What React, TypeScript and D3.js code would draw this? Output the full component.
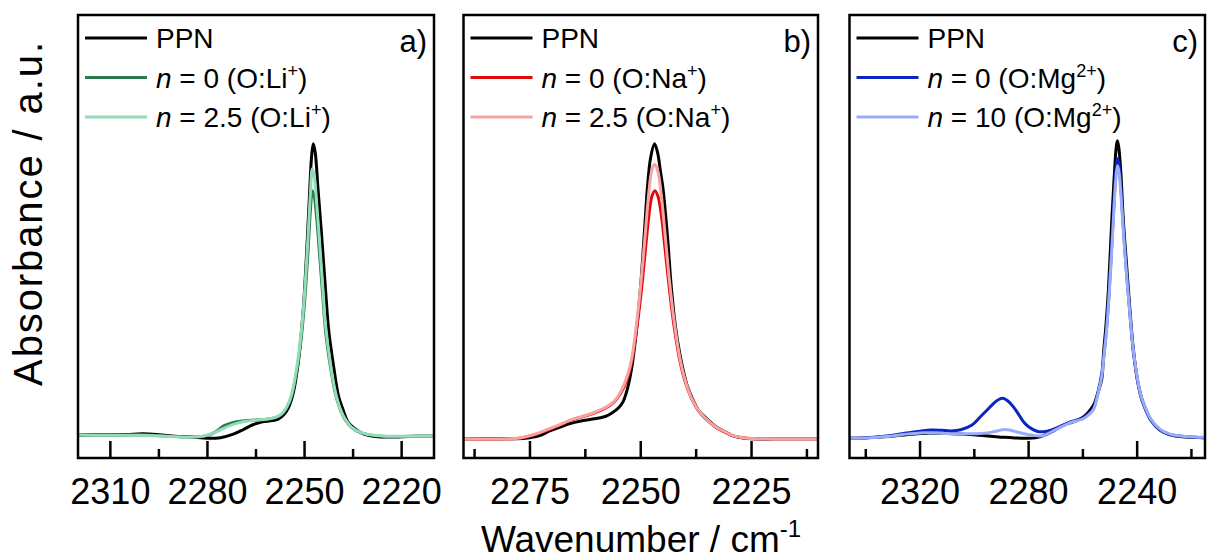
import React from "react";
import * as d3 from "d3";

type Pt = [number, number];

// ---- Spectra: [wavenumber (cm^-1), absorbance (a.u.)] ----
const ppnLi: Pt[] = [
  [2320, 0.007], [2312, 0.008], [2305, 0.009], [2300, 0.011], [2295, 0.008], [2290, 0.003],
  [2285, 0.0], [2280, -0.004], [2276, -0.002], [2272, 0.01], [2269, 0.025], [2266, 0.042],
  [2263, 0.052], [2260, 0.056], [2258, 0.062], [2256.5, 0.075], [2255, 0.1], [2253.5, 0.15],
  [2252, 0.25], [2250.5, 0.42], [2249.5, 0.6], [2248.5, 0.82], [2247.8, 0.96], [2247.3, 1.0],
  [2246.7, 0.97], [2245.8, 0.84], [2244.8, 0.7], [2243.5, 0.5], [2242.5, 0.36], [2241, 0.24],
  [2239.5, 0.14], [2238, 0.09], [2236.5, 0.05], [2234, 0.025], [2232, 0.012], [2228, 0.002],
  [2224, 0.0], [2220, 0.001], [2215, 0.003], [2210, 0.003],
];
const li0: Pt[] = [
  [2320, 0.006], [2310, 0.006], [2300, 0.007], [2290, 0.002], [2284, 0.0], [2281, 0.003],
  [2278, 0.014], [2275, 0.038], [2272, 0.05], [2269, 0.055], [2265, 0.058], [2262, 0.06],
  [2259, 0.066], [2257, 0.078], [2255.5, 0.1], [2254, 0.14], [2252.5, 0.22], [2251, 0.34],
  [2250, 0.46], [2249, 0.62], [2248.2, 0.77], [2247.6, 0.84], [2247, 0.82], [2246.2, 0.74],
  [2245.2, 0.6], [2244.3, 0.47], [2243.5, 0.36], [2242, 0.24], [2240.5, 0.15], [2239, 0.095],
  [2237.5, 0.06], [2235.5, 0.033], [2232.5, 0.014], [2228, 0.004], [2224, 0.002], [2220, 0.002],
  [2215, 0.003], [2210, 0.003],
];
const li25: Pt[] = [
  [2320, 0.007], [2310, 0.006], [2300, 0.006], [2290, 0.001], [2284, 0.0], [2281, 0.004],
  [2278, 0.014], [2275, 0.03], [2272, 0.043], [2269, 0.052], [2265, 0.058], [2262, 0.061],
  [2259, 0.067], [2257, 0.08], [2255.5, 0.102], [2254, 0.145], [2252.5, 0.23], [2251, 0.36],
  [2250, 0.49], [2249, 0.67], [2248.2, 0.83], [2247.6, 0.915], [2247, 0.89], [2246.2, 0.79],
  [2245.2, 0.64], [2244.3, 0.5], [2243.5, 0.38], [2242, 0.25], [2240.5, 0.155], [2239, 0.097],
  [2237.5, 0.062], [2235.5, 0.034], [2232.5, 0.015], [2228, 0.005], [2224, 0.003], [2220, 0.003],
  [2215, 0.003], [2210, 0.003],
];

const ppnNa: Pt[] = [
  [2290, -0.006], [2285, -0.006], [2280, -0.006], [2276, -0.004], [2273, 0.004], [2270.4, 0.022],
  [2268, 0.035], [2266, 0.046], [2263.5, 0.055], [2261.5, 0.06], [2259.5, 0.065], [2258, 0.07],
  [2256.5, 0.082], [2255, 0.1], [2254, 0.12], [2253, 0.165], [2252, 0.24], [2251, 0.36],
  [2250, 0.52], [2249, 0.74], [2248.5, 0.85], [2247.8, 0.95], [2246.9, 1.0], [2246.2, 0.97],
  [2245.5, 0.9], [2245, 0.85], [2244, 0.69], [2243.1, 0.51], [2242.2, 0.38], [2241.2, 0.285],
  [2240.3, 0.22], [2239.4, 0.17], [2238, 0.12], [2237, 0.092], [2235.5, 0.068], [2233, 0.035],
  [2231, 0.018], [2229.3, 0.005], [2227, -0.003], [2225, -0.006], [2220, -0.006], [2215, -0.006],
  [2210, -0.006],
];
const na0: Pt[] = [
  [2290, -0.006], [2280, -0.006], [2277, -0.003], [2274, 0.008], [2271, 0.024], [2268, 0.042],
  [2266, 0.056], [2263.5, 0.068], [2261.5, 0.077], [2259.5, 0.088], [2257.5, 0.103], [2256, 0.12],
  [2254.5, 0.15], [2253, 0.2], [2252, 0.26], [2251, 0.36], [2250, 0.48], [2249, 0.63],
  [2248.2, 0.75], [2247.5, 0.82], [2246.8, 0.84], [2246.1, 0.82], [2245.3, 0.75], [2244.5, 0.64],
  [2243.5, 0.5], [2242.5, 0.38], [2241.3, 0.27], [2240, 0.19], [2238.5, 0.13], [2237, 0.09],
  [2235.5, 0.064], [2233, 0.033], [2231, 0.017], [2229.3, 0.005], [2227, -0.002], [2225, -0.005],
  [2220, -0.006], [2210, -0.006],
];
const na25: Pt[] = [
  [2290, -0.006], [2280, -0.006], [2277, -0.002], [2274, 0.009], [2271, 0.026], [2268, 0.044],
  [2266, 0.057], [2263.5, 0.069], [2261.5, 0.078], [2259.5, 0.09], [2257.5, 0.105], [2256, 0.122],
  [2254.5, 0.155], [2253, 0.21], [2252, 0.27], [2251, 0.38], [2250, 0.52], [2249, 0.69],
  [2248.2, 0.83], [2247.5, 0.91], [2246.9, 0.93], [2246.2, 0.91], [2245.4, 0.83], [2244.5, 0.69],
  [2243.5, 0.53], [2242.5, 0.4], [2241.3, 0.28], [2240, 0.195], [2238.5, 0.132], [2237, 0.092],
  [2235.5, 0.066], [2233, 0.034], [2231, 0.018], [2229.3, 0.006], [2227, -0.002], [2225, -0.005],
  [2220, -0.006], [2210, -0.006],
];

const ppnMg: Pt[] = [
  [2346, -0.004], [2340, -0.003], [2335, 0.0], [2330, 0.003], [2325, 0.008], [2320, 0.012],
  [2316, 0.013], [2310, 0.012], [2304, 0.01], [2298, 0.006], [2293, 0.002], [2289, -0.001],
  [2285, -0.003], [2281, -0.004], [2277, -0.002], [2274.5, 0.005], [2271, 0.02], [2268.5, 0.035],
  [2266, 0.045], [2264, 0.05], [2261, 0.062], [2259, 0.075], [2257.5, 0.09], [2256, 0.11],
  [2254.5, 0.15], [2253, 0.2], [2252.4, 0.285], [2251.5, 0.38], [2250.6, 0.5], [2249.35, 0.74],
  [2248.5, 0.88], [2247.8, 0.98], [2247.3, 1.01], [2246.8, 0.99], [2246, 0.9], [2245.1, 0.74],
  [2244, 0.6], [2243.2, 0.5], [2242.3, 0.39], [2241.4, 0.3], [2240, 0.2], [2238.7, 0.145],
  [2237.7, 0.115], [2235, 0.06], [2231.6, 0.024], [2229, 0.012], [2226.7, 0.005], [2222, 0.0],
  [2215, -0.002],
];
const mg0: Pt[] = [
  [2346, -0.004], [2340, -0.002], [2335, 0.001], [2330, 0.006], [2325, 0.014], [2320, 0.02],
  [2316, 0.024], [2312, 0.023], [2308.8, 0.021], [2305, 0.025], [2301, 0.04], [2297.8, 0.069],
  [2295, 0.095], [2292.9, 0.115], [2291, 0.128], [2289.4, 0.132], [2287.5, 0.122], [2285.6, 0.103],
  [2283.5, 0.075], [2281.9, 0.052], [2280, 0.035], [2277, 0.02], [2274.5, 0.018], [2271.5, 0.024],
  [2268.4, 0.036], [2266, 0.046], [2264.7, 0.052], [2262, 0.058], [2259.8, 0.066], [2258, 0.078],
  [2256.1, 0.098], [2254.5, 0.15], [2253, 0.22], [2252.2, 0.285], [2251.2, 0.38], [2250.3, 0.5],
  [2249.1, 0.7], [2248.3, 0.84], [2247.6, 0.93], [2247.2, 0.95], [2246.7, 0.93], [2246, 0.85],
  [2245, 0.7], [2244, 0.57], [2243.2, 0.48], [2242.3, 0.38], [2241.4, 0.29], [2240, 0.2],
  [2238.7, 0.14], [2237.7, 0.112], [2235, 0.058], [2231.6, 0.024], [2229, 0.012], [2226.7, 0.006],
  [2222, 0.001], [2215, -0.002],
];
const mg10: Pt[] = [
  [2346, -0.004], [2340, -0.003], [2335, 0.0], [2330, 0.004], [2325, 0.01], [2320, 0.014],
  [2316, 0.014], [2310, 0.012], [2304, 0.011], [2298, 0.012], [2294, 0.016], [2291, 0.022],
  [2289.2, 0.026], [2287, 0.024], [2284.5, 0.018], [2281.9, 0.012], [2278, 0.005], [2274.5, 0.005],
  [2271.5, 0.018], [2268.4, 0.033], [2266, 0.043], [2264.7, 0.049], [2262, 0.056], [2259.8, 0.063],
  [2258, 0.075], [2256.1, 0.094], [2254.5, 0.145], [2253, 0.21], [2252.2, 0.28], [2251.2, 0.37],
  [2250.3, 0.49], [2249.1, 0.68], [2248.3, 0.82], [2247.6, 0.905], [2247.2, 0.925], [2246.7, 0.905],
  [2246, 0.83], [2245, 0.69], [2244, 0.565], [2243.2, 0.475], [2242.3, 0.38], [2241.4, 0.295],
  [2240, 0.205], [2238.7, 0.145], [2237.7, 0.117], [2235, 0.062], [2231.6, 0.027], [2229, 0.014],
  [2226.7, 0.007], [2222, 0.002], [2215, -0.001],
];

// ---- Axes ----
const domainLi: [number, number] = [2320, 2210];
const domainNa: [number, number] = [2290, 2210];
const domainMg: [number, number] = [2346, 2215];
const majorLi = [2310, 2280, 2250, 2220];
const minorLi = [2295, 2265, 2235];
const majorNa = [2275, 2250, 2225];
const minorNa = [2287.5, 2262.5, 2237.5, 2212.5];
const majorMg = [2320, 2280, 2240];
const minorMg = [2340, 2300, 2260, 2220];
const yDomain: [number, number] = [-0.0714, 1.439];

// ---- Series labels ----
const nLi = ["0", "2.5"];
const nNa = ["0", "2.5"];
const nMg = ["0", "10"];

const FONT = "'Liberation Sans', Arial, Helvetica, sans-serif";
const W = 1207;
const H = 560;
const TOP = 15;
const BOTTOM = 458;

type PanelDef = {
  id: string;
  letter: string;
  x0: number;
  x1: number;
  domain: [number, number];
  major: number[];
  minor: number[];
  ion: string;
  charge: string;
  nValues: string[];
  series: { data: Pt[]; color: string }[];
};

const panels: PanelDef[] = [
  {
    id: "li", letter: "a)", x0: 78, x1: 434, domain: domainLi, major: majorLi, minor: minorLi,
    ion: "Li", charge: "+", nValues: nLi,
    series: [
      { data: ppnLi, color: "#000000" },
      { data: li0, color: "#2a7a4e" },
      { data: li25, color: "#92dcb8" },
    ],
  },
  {
    id: "na", letter: "b)", x0: 463.5, x1: 818, domain: domainNa, major: majorNa, minor: minorNa,
    ion: "Na", charge: "+", nValues: nNa,
    series: [
      { data: ppnNa, color: "#000000" },
      { data: na0, color: "#e00a0a" },
      { data: na25, color: "#f7a3a3" },
    ],
  },
  {
    id: "mg", letter: "c)", x0: 849.5, x1: 1205, domain: domainMg, major: majorMg, minor: minorMg,
    ion: "Mg", charge: "2+", nValues: nMg,
    series: [
      { data: ppnMg, color: "#000000" },
      { data: mg0, color: "#0b24c2" },
      { data: mg10, color: "#9aabf7" },
    ],
  },
];

const y = d3.scaleLinear().domain(yDomain).range([BOTTOM, TOP]);

function Panel({ p }: { p: PanelDef }) {
  const x = d3.scaleLinear().domain(p.domain).range([p.x0, p.x1]);
  const line = d3
    .line<Pt>()
    .x((d) => x(d[0]))
    .y((d) => y(d[1]))
    .curve(d3.curveCatmullRom.alpha(0.5));
  const clipId = `clip-${p.id}`;
  const legendRows = [38, 77.5, 117];
  const lx0 = p.x0 + 7;
  const lx1 = p.x0 + 69;
  const tx = p.x0 + 78;
  return (
    <g>
      <defs>
        <clipPath id={clipId}>
          <rect x={p.x0} y={TOP} width={p.x1 - p.x0} height={BOTTOM - TOP} />
        </clipPath>
      </defs>
      <g clipPath={`url(#${clipId})`}>
        {p.series.map((s, i) => (
          <path key={i} d={line(s.data) ?? ""} fill="none" stroke={s.color} strokeWidth={3}
            strokeLinejoin="round" strokeLinecap="round" />
        ))}
      </g>
      {/* ticks (inward, bottom axis only) */}
      {p.major.map((t) => (
        <line key={`M${t}`} x1={x(t)} x2={x(t)} y1={BOTTOM} y2={BOTTOM - 17} stroke="#000" strokeWidth={2.5} />
      ))}
      {p.minor.map((t) => (
        <line key={`m${t}`} x1={x(t)} x2={x(t)} y1={BOTTOM} y2={BOTTOM - 9} stroke="#000" strokeWidth={2.5} />
      ))}
      {p.major.map((t) => (
        <text key={`L${t}`} x={x(t)} y={504} textAnchor="middle" fontSize={36} fontFamily={FONT} fill="#000">
          {t}
        </text>
      ))}
      <rect x={p.x0} y={TOP} width={p.x1 - p.x0} height={BOTTOM - TOP} fill="none" stroke="#000" strokeWidth={2.5} />
      {/* legend */}
      {p.series.map((s, i) => (
        <line key={`ll${i}`} x1={lx0} x2={lx1} y1={legendRows[i]} y2={legendRows[i]} stroke={s.color} strokeWidth={3} />
      ))}
      <text x={tx} y={legendRows[0] + 10} fontSize={28} fontFamily={FONT} fill="#000">PPN</text>
      {p.nValues.map((n, i) => (
        <text key={`lt${i}`} x={tx} y={legendRows[i + 1] + 10} fontSize={28} fontFamily={FONT} fill="#000">
          <tspan fontStyle="italic">n</tspan>
          <tspan>{` = ${n} (O:${p.ion}`}</tspan>
          <tspan fontSize={18} dy={-11}>{p.charge}</tspan>
          <tspan dy={11}>)</tspan>
        </text>
      ))}
      <text x={p.x1 - 7} y={52} textAnchor="end" fontSize={31} fontFamily={FONT} fill="#000">
        {p.letter}
      </text>
    </g>
  );
}

export default function App() {
  return (
    <svg width={W} height={H} viewBox={`0 0 ${W} ${H}`}
      style={{ position: "absolute", left: 0, top: 0, background: "#fff" }}>
      <rect x={0} y={0} width={W} height={H} fill="#fff" />
      {panels.map((p) => (
        <Panel key={p.id} p={p} />
      ))}
      <text transform="translate(42,213) rotate(-90)" textAnchor="middle" fontSize={40} letterSpacing={1.9}
        fontFamily={FONT} fill="#000">
        Absorbance / a.u.
      </text>
      <text x={641} y={552} textAnchor="middle" fontSize={37} fontFamily={FONT} fill="#000">
        Wavenumber / cm<tspan fontSize={24} dy={-15}>-1</tspan>
      </text>
    </svg>
  );
}
